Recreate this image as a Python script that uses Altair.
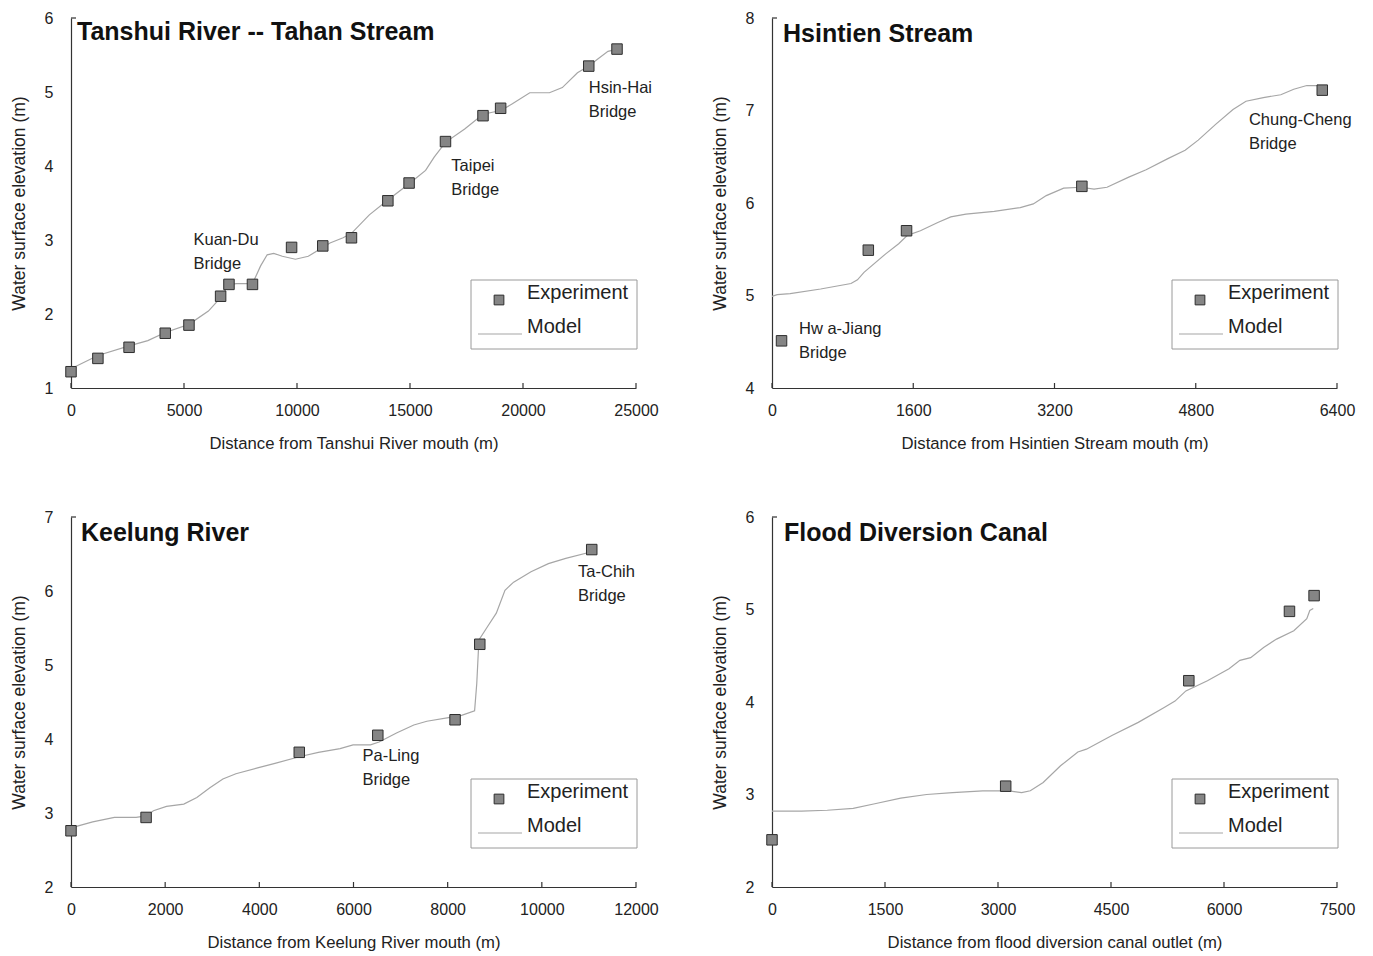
import altair as alt
import pandas as pd

FONT = "Liberation Sans"
TXT = "#222222"
W, H = 565, 370

# ---------------- Panel 1: Tanshui River -- Tahan Stream ----------------
p1_exp_x = [0, 1190, 2570, 4170, 5220, 6620, 6990, 8030, 9760, 11140, 12410,
            14020, 14960, 16570, 18230, 19010, 22910, 24160]
p1_exp_y = [1.22, 1.40, 1.55, 1.74, 1.85, 2.24, 2.40, 2.40, 2.90, 2.92, 3.03,
            3.53, 3.77, 4.33, 4.68, 4.78, 5.35, 5.58]
p1_mod_x = [0, 1190, 2570, 3400, 4170, 5220, 6080, 6620, 6990, 7330, 8030, 8390,
            8680, 8970, 9350, 9930, 10500, 11080, 11460, 12040, 12410, 13200,
            14020, 14960, 15690, 16070, 16570, 17420, 18230, 19010, 19530, 20300,
            21170, 21740, 22410, 22910, 23280, 23760, 24160]
p1_mod_y = [1.26, 1.44, 1.57, 1.64, 1.75, 1.86, 2.04, 2.22, 2.40, 2.41, 2.41, 2.65,
            2.80, 2.82, 2.78, 2.74, 2.78, 2.89, 2.96, 3.03, 3.09, 3.34,
            3.54, 3.76, 3.94, 4.12, 4.32, 4.50, 4.70, 4.75, 4.84, 4.99,
            4.99, 5.06, 5.26, 5.35, 5.44, 5.55, 5.58]
p1_note_x = [5420, 5420, 16830, 16830, 22910, 22910]
p1_note_y = [3.00, 2.68, 4.00, 3.68, 5.05, 4.73]
p1_note_t = ["Kuan-Du", "Bridge", "Taipei", "Bridge", "Hsin-Hai", "Bridge"]
p1_xticks = [0, 5000, 10000, 15000, 20000, 25000]
p1_yticks = [1, 2, 3, 4, 5, 6]

# ---------------- Panel 2: Hsintien Stream ----------------
p2_exp_x = [108, 1091, 1524, 3510, 6233]
p2_exp_y = [4.51, 5.49, 5.70, 6.18, 7.22]
p2_mod_x = [0, 59, 206, 551, 895, 968, 1042, 1288, 1435, 1534, 1681, 1878, 2025,
            2197, 2517, 2812, 2960, 3107, 3304, 3500, 3648, 3795, 4041, 4238,
            4484, 4680, 4828, 5025, 5222, 5369, 5566, 5763, 5910, 6058, 6233]
p2_mod_y = [4.99, 5.01, 5.02, 5.07, 5.13, 5.17, 5.25, 5.45, 5.56, 5.65, 5.70, 5.79,
            5.85, 5.88, 5.91, 5.95, 5.99, 6.08, 6.16, 6.17, 6.15, 6.17, 6.28,
            6.36, 6.48, 6.57, 6.68, 6.85, 7.01, 7.10, 7.14, 7.17, 7.23, 7.27, 7.27]
p2_note_x = [306, 306, 5402, 5402]
p2_note_y = [4.64, 4.38, 6.90, 6.64]
p2_note_t = ["Hw a-Jiang", "Bridge", "Chung-Cheng", "Bridge"]
p2_xticks = [0, 1600, 3200, 4800, 6400]
p2_yticks = [4, 5, 6, 7, 8]

# ---------------- Panel 3: Keelung River ----------------
p3_exp_x = [0, 1595, 4848, 6516, 8157, 8682, 11060]
p3_exp_y = [2.76, 2.94, 3.82, 4.05, 4.26, 5.28, 6.56]
p3_mod_x = [0, 461, 922, 1383, 1595, 1751, 2028, 2396, 2673, 2950, 3226, 3503,
            3963, 4332, 4848, 5254, 5715, 5991, 6360, 6544, 6913, 7281, 7558,
            8019, 8295, 8572, 8618, 8664, 8848, 9033, 9217, 9401, 9770, 10139,
            10508, 11060]
p3_mod_y = [2.80, 2.88, 2.94, 2.94, 2.96, 3.03, 3.09, 3.12, 3.21, 3.34, 3.46, 3.53,
            3.61, 3.67, 3.76, 3.82, 3.87, 3.92, 3.92, 3.96, 4.08, 4.19, 4.24,
            4.29, 4.32, 4.38, 4.75, 5.34, 5.52, 5.70, 6.01, 6.12, 6.26, 6.37,
            6.44, 6.53]
p3_note_x = [6191, 6191, 10770, 10770]
p3_note_y = [3.77, 3.45, 6.26, 5.93]
p3_note_t = ["Pa-Ling", "Bridge", "Ta-Chih", "Bridge"]
p3_xticks = [0, 2000, 4000, 6000, 8000, 10000, 12000]
p3_yticks = [2, 3, 4, 5, 6, 7]

# ---------------- Panel 4: Flood Diversion Canal ----------------
p4_exp_x = [0, 3102, 5533, 6869, 7196]
p4_exp_y = [2.51, 3.09, 4.23, 4.98, 5.15]
p4_mod_x = [0, 390, 734, 1078, 1365, 1709, 2053, 2397, 2798, 3142, 3314, 3429,
            3600, 3830, 4060, 4174, 4518, 4862, 5206, 5350, 5494, 5780, 6067,
            6211, 6354, 6526, 6698, 6927, 7099, 7139, 7185]
p4_mod_y = [2.82, 2.82, 2.83, 2.85, 2.90, 2.96, 3.00, 3.02, 3.04, 3.04, 3.02, 3.04,
            3.13, 3.31, 3.46, 3.49, 3.64, 3.78, 3.94, 4.01, 4.12, 4.23, 4.36,
            4.45, 4.48, 4.59, 4.68, 4.77, 4.90, 4.99, 5.01]
p4_note_x = []
p4_note_y = []
p4_note_t = []
p4_xticks = [0, 1500, 3000, 4500, 6000, 7500]
p4_yticks = [2, 3, 4, 5, 6]

ONE = pd.DataFrame({"k": [0]})


def panel(title, exp_x, exp_y, mod_x, mod_y, nx, ny, nt, xticks, yticks, xtitle,
          title_pos):
    xs = alt.Scale(domain=[xticks[0], xticks[-1]], nice=False, zero=False)
    ys = alt.Scale(domain=[yticks[0], yticks[-1]], nice=False, zero=False)
    xax = alt.Axis(values=xticks, title=xtitle, format="d")
    yax = alt.Axis(values=yticks, title="Water surface elevation (m)", format="d")

    mod = pd.DataFrame({"x": mod_x, "y": mod_y})
    exp = pd.DataFrame({"x": exp_x, "y": exp_y})

    line = alt.Chart(mod).mark_line(color="#a6a6a6", strokeWidth=1.2).encode(
        x=alt.X("x:Q", scale=xs, axis=xax),
        y=alt.Y("y:Q", scale=ys, axis=yax),
    )
    pts = alt.Chart(exp).mark_square(
        size=110, color="#858585", fill="#858585", stroke="#2e2e2e",
        strokeWidth=1, opacity=1, filled=True,
    ).encode(x="x:Q", y="y:Q")

    ticks = alt.Chart(pd.DataFrame({"x": xticks})).mark_rule(
        color="#333333", strokeWidth=1.2
    ).encode(x="x:Q", y=alt.value(H), y2=alt.value(H - 5))
    ytop = alt.Chart(ONE).mark_rule(color="#333333", strokeWidth=1.2).encode(
        x=alt.value(0), x2=alt.value(5), y=alt.value(0)
    )

    ttl = alt.Chart(ONE).mark_text(
        text=title, align="left", baseline="middle", font=FONT,
        fontSize=25, fontWeight="bold", color="#111111",
    ).encode(x=alt.value(title_pos[0]), y=alt.value(title_pos[1]))

    # legend box (anchored to the lower-right corner of the plot)
    bx = W - 165
    box = alt.Chart(ONE).mark_rect(
        fill="white", stroke="#9a9a9a", strokeWidth=1
    ).encode(x=alt.value(bx), x2=alt.value(W + 1), y=alt.value(H - 108),
             y2=alt.value(H - 39))
    lsq = alt.Chart(ONE).mark_square(
        size=95, color="#858585", fill="#858585", stroke="#2e2e2e",
        strokeWidth=1, opacity=1, filled=True,
    ).encode(x=alt.value(bx + 28), y=alt.value(H - 88))
    ltx1 = alt.Chart(ONE).mark_text(
        text="Experiment", align="left", baseline="middle", font=FONT,
        fontSize=20, color=TXT,
    ).encode(x=alt.value(bx + 56), y=alt.value(H - 95))
    lln = alt.Chart(ONE).mark_rule(color="#a6a6a6", strokeWidth=1.2).encode(
        x=alt.value(bx + 7), x2=alt.value(bx + 51), y=alt.value(H - 54)
    )
    ltx2 = alt.Chart(ONE).mark_text(
        text="Model", align="left", baseline="middle", font=FONT,
        fontSize=20, color=TXT,
    ).encode(x=alt.value(bx + 56), y=alt.value(H - 61))

    layers = [line, ticks, ytop, box, lsq, ltx1, lln, ltx2, pts, ttl]
    if nt:
        notes = alt.Chart(pd.DataFrame({"x": nx, "y": ny, "t": nt})).mark_text(
            align="left", baseline="middle", font=FONT, fontSize=16.5, color=TXT
        ).encode(x="x:Q", y="y:Q", text="t:N")
        layers.append(notes)

    return alt.layer(*layers).properties(width=W, height=H)


c1 = panel("Tanshui River -- Tahan Stream", p1_exp_x, p1_exp_y, p1_mod_x, p1_mod_y,
           p1_note_x, p1_note_y, p1_note_t, p1_xticks, p1_yticks,
           "Distance from Tanshui River mouth (m)", (6, 14))
c2 = panel("Hsintien Stream", p2_exp_x, p2_exp_y, p2_mod_x, p2_mod_y,
           p2_note_x, p2_note_y, p2_note_t, p2_xticks, p2_yticks,
           "Distance from Hsintien Stream mouth (m)", (11, 16))
c3 = panel("Keelung River", p3_exp_x, p3_exp_y, p3_mod_x, p3_mod_y,
           p3_note_x, p3_note_y, p3_note_t, p3_xticks, p3_yticks,
           "Distance from Keelung River mouth (m)", (10, 16))
c4 = panel("Flood Diversion Canal", p4_exp_x, p4_exp_y, p4_mod_x, p4_mod_y,
           p4_note_x, p4_note_y, p4_note_t, p4_xticks, p4_yticks,
           "Distance from flood diversion canal outlet (m)", (12, 16))

chart = alt.concat(
    c1, c2, c3, c4,
    columns=2,
    spacing={"row": 129, "column": 136},
    bounds="flush",
).properties(
    padding={"left": 2, "top": 2, "right": 5, "bottom": 5},
    background="white",
).configure_view(
    strokeWidth=0
).configure_axis(
    grid=False,
    ticks=False,
    labelFlush=False,
    labelOverlap=False,
    domainColor="#333333",
    domainWidth=1.2,
    labelFont=FONT,
    titleFont=FONT,
    labelFontSize=16,
    labelColor=TXT,
    titleColor=TXT,
    titleFontWeight="normal",
).configure_axisX(
    labelPadding=14,
    titlePadding=17,
    titleFontSize=16.7,
).configure_axisY(
    labelPadding=18,
    titlePadding=16,
    titleFontSize=17.5,
)

chart.save("out.html", embed_options={"renderer": "svg", "actions": False})
